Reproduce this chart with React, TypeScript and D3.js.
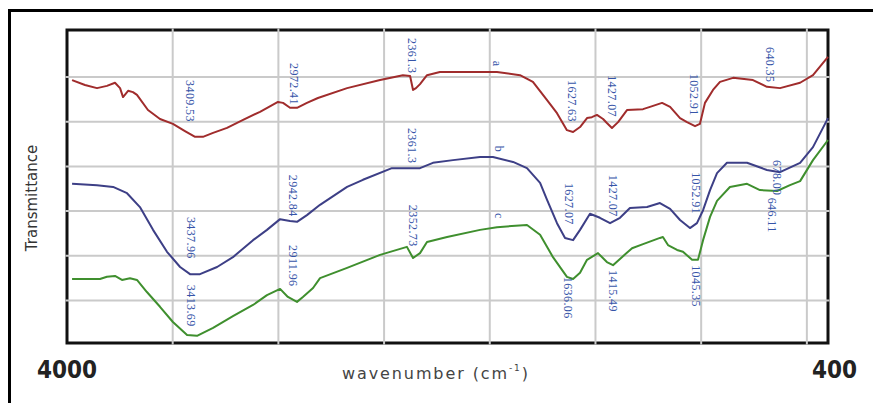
import React from "react";
import * as d3 from "d3";

// ---- data (wavenumber cm^-1, transmittance a.u.) ----
const xDomain: [number, number] = [4000, 400];
const yDomain: [number, number] = [0.05, 7.05];
const gridWavenumbers = [3500, 3000, 2500, 2000, 1500, 1000, 500];
const gridLevels = [1, 2, 3, 4, 5, 6];

const seriesA: [number, number][] = [
  [3976, 5.93], [3915, 5.82], [3858, 5.75], [3811, 5.8], [3773, 5.87], [3749, 5.75], [3735, 5.55],
  [3711, 5.69], [3688, 5.66], [3669, 5.6], [3617, 5.26], [3560, 5.06], [3499, 4.95], [3442, 4.79],
  [3394, 4.66], [3357, 4.66], [3309, 4.75], [3243, 4.86], [3167, 5.04], [3087, 5.22], [3002, 5.44],
  [2978, 5.42], [2945, 5.31], [2912, 5.31], [2865, 5.42], [2813, 5.53], [2675, 5.75], [2519, 5.93],
  [2411, 6.04], [2377, 6.02], [2363, 5.71], [2349, 5.75], [2330, 5.84], [2297, 6.04], [2236, 6.11],
  [1966, 6.11], [1857, 6.04], [1796, 5.89], [1729, 5.48], [1682, 5.19], [1635, 4.81], [1606, 4.77],
  [1573, 4.88], [1540, 5.08], [1517, 5.1], [1493, 5.15], [1464, 5.06], [1446, 4.97], [1422, 4.86],
  [1393, 4.99], [1351, 5.26], [1275, 5.28], [1242, 5.33], [1185, 5.42], [1147, 5.33], [1100, 5.08],
  [1067, 4.99], [1029, 4.9], [1006, 4.95], [982, 5.42], [944, 5.71], [911, 5.89], [849, 5.98],
  [755, 5.93], [689, 5.78], [627, 5.75], [532, 5.87], [471, 6.04], [400, 6.45],
];

const seriesB: [number, number][] = [
  [3976, 3.61], [3858, 3.58], [3782, 3.54], [3716, 3.4], [3655, 3.09], [3593, 2.58], [3527, 2.09],
  [3465, 1.75], [3418, 1.59], [3371, 1.59], [3290, 1.75], [3215, 1.97], [3120, 2.35], [3054, 2.58],
  [2992, 2.82], [2945, 2.78], [2912, 2.76], [2865, 2.91], [2803, 3.14], [2675, 3.54], [2600, 3.7],
  [2463, 3.96], [2330, 3.96], [2269, 4.08], [2174, 4.14], [2046, 4.21], [1985, 4.21], [1890, 4.1],
  [1824, 3.96], [1762, 3.63], [1729, 3.25], [1682, 2.73], [1644, 2.4], [1606, 2.35], [1573, 2.58],
  [1526, 2.94], [1479, 2.85], [1431, 2.73], [1384, 2.85], [1337, 3.07], [1256, 3.09], [1195, 3.18],
  [1147, 3.05], [1100, 2.8], [1053, 2.62], [1020, 2.73], [991, 3.02], [958, 3.47], [925, 3.85],
  [878, 4.08], [783, 4.08], [689, 3.92], [627, 3.87], [532, 4.08], [471, 4.43], [400, 5.08],
];

const seriesC: [number, number][] = [
  [3976, 1.48], [3844, 1.48], [3811, 1.53], [3773, 1.55], [3740, 1.46], [3702, 1.5], [3669, 1.46],
  [3622, 1.19], [3560, 0.86], [3499, 0.52], [3432, 0.23], [3385, 0.21], [3309, 0.39], [3215, 0.65],
  [3120, 0.9], [3054, 1.12], [2992, 1.26], [2955, 1.08], [2912, 0.97], [2884, 1.08], [2836, 1.28],
  [2803, 1.5], [2675, 1.73], [2519, 2.02], [2392, 2.2], [2363, 1.95], [2330, 2.06], [2297, 2.31],
  [2202, 2.42], [2046, 2.58], [1966, 2.64], [1824, 2.69], [1762, 2.47], [1701, 1.97], [1635, 1.53],
  [1606, 1.48], [1573, 1.62], [1540, 1.91], [1488, 2.06], [1446, 1.86], [1417, 1.79], [1375, 1.97],
  [1327, 2.17], [1275, 2.26], [1195, 2.4], [1181, 2.42], [1157, 2.24], [1114, 2.13], [1086, 2.09],
  [1043, 1.91], [1015, 1.91], [991, 2.35], [958, 2.87], [925, 3.23], [864, 3.54], [783, 3.61],
  [722, 3.47], [641, 3.45], [580, 3.58], [532, 3.67], [471, 4.14], [400, 4.59],
];

// peak labels: [text, anchor wavenumber, top value]
const labelsA: [string, number, number][] = [
  ["3409.53", 3418, 5.93], ["2972.41", 2926, 6.31], ["2361.3", 2368, 6.87], ["a", 1966, 6.36],
  ["1627.63", 1611, 5.93], ["1427.07", 1422, 6.04], ["1052.91", 1034, 6.07], ["640.35", 674, 6.67],
];
const labelsB: [string, number, number][] = [
  ["3437.96", 3413, 2.87], ["2942.84", 2931, 3.81], ["2361.3", 2368, 4.86], ["b", 1956, 4.46],
  ["1627.07", 1625, 3.63], ["1427.07", 1417, 3.81], ["1052.91", 1024, 3.87], ["678.00", 640, 4.14],
];
const labelsC: [string, number, number][] = [
  ["3413.69", 3413, 1.35], ["2911.96", 2931, 2.24], ["2352.73", 2363, 3.14], ["c", 1956, 2.96],
  ["1636.06", 1630, 1.53], ["1415.49", 1417, 1.68], ["1045.35", 1024, 1.79], ["646.11", 664, 3.3],
];

const xStartLabel = "4000";
const xEndLabel = "400";
const xTitle = "wavenumber (cm";
const yTitle = "Transmittance";

// ---- layout ----
const W = 873;
const H = 403;
const plot = { left: 67, right: 828, top: 30, bottom: 343 };

export default function App() {
  const x = d3.scaleLinear().domain(xDomain).range([plot.left, plot.right]);
  const y = d3.scaleLinear().domain(yDomain).range([plot.bottom, plot.top]);
  const line = d3
    .line<[number, number]>()
    .x((d) => x(d[0]))
    .y((d) => y(d[1]));

  const series = [
    { data: seriesA, color: "#a02c2c", labels: labelsA },
    { data: seriesB, color: "#3d3f86", labels: labelsB },
    { data: seriesC, color: "#3f8f2e", labels: labelsC },
  ];

  return (
    <svg
      width={W}
      height={H}
      style={{ position: "absolute", left: 0, top: 0, background: "#fff" }}
    >
      <rect x={0} y={0} width={W} height={H} fill="#fff" />
      {/* outer frame */}
      <line x1={8} x2={W} y1={10.5} y2={10.5} stroke="#000" strokeWidth={3} />
      <line x1={9.5} x2={9.5} y1={9} y2={H} stroke="#000" strokeWidth={3} />

      {/* plot frame */}
      <rect
        x={plot.left}
        y={plot.top}
        width={plot.right - plot.left}
        height={plot.bottom - plot.top}
        fill="none"
        stroke="#111"
        strokeWidth={3}
      />
      {/* grid */}
      {gridWavenumbers.map((w) => (
        <line
          key={"gx" + w}
          x1={x(w)}
          x2={x(w)}
          y1={plot.top - 1.5}
          y2={plot.bottom + 1.5}
          stroke="#cacaca"
          strokeWidth={2}
        />
      ))}
      {gridLevels.map((v) => (
        <line
          key={"gy" + v}
          x1={plot.left - 1.5}
          x2={plot.right + 1.5}
          y1={y(v)}
          y2={y(v)}
          stroke="#cacaca"
          strokeWidth={2}
        />
      ))}

      {/* curves */}
      {series.map((s, i) => (
        <path
          key={"s" + i}
          d={line(s.data) || ""}
          fill="none"
          stroke={s.color}
          strokeWidth={2}
          strokeLinejoin="round"
        />
      ))}

      {/* peak labels */}
      {series.map((s, i) =>
        s.labels.map(([t, w, v], j) => (
          <text
            key={"l" + i + "-" + j}
            transform={`translate(${x(w)},${y(v)}) rotate(90)`}
            dominantBaseline="central"
            fontFamily="'Liberation Serif', serif"
            fontSize={12}
            letterSpacing={0.4}
            fill="#3654a8"
          >
            {t}
          </text>
        ))
      )}

      {/* axis texts */}
      <text
        x={37}
        y={378}
        fontFamily="'DejaVu Sans Condensed', 'DejaVu Sans', sans-serif"
        fontStretch="condensed"
        fontWeight="bold"
        fontSize={24}
        fill="#222"
      >
        {xStartLabel}
      </text>
      <text
        x={857}
        y={378}
        textAnchor="end"
        fontFamily="'DejaVu Sans Condensed', 'DejaVu Sans', sans-serif"
        fontStretch="condensed"
        fontWeight="bold"
        fontSize={24}
        fill="#222"
      >
        {xEndLabel}
      </text>
      <text
        x={342}
        y={379}
        fontFamily="'DejaVu Sans', sans-serif"
        fontSize={16}
        letterSpacing={1.9}
        fill="#444"
      >
        {xTitle}
        <tspan dy={-8} fontSize={9}>
          -1
        </tspan>
        <tspan dy={8}>)</tspan>
      </text>
      <text
        transform={`translate(31.5,198) rotate(-90)`}
        textAnchor="middle"
        dominantBaseline="central"
        fontFamily="'DejaVu Sans', sans-serif"
        fontSize={15}
        fill="#333"
      >
        {yTitle}
      </text>
    </svg>
  );
}
